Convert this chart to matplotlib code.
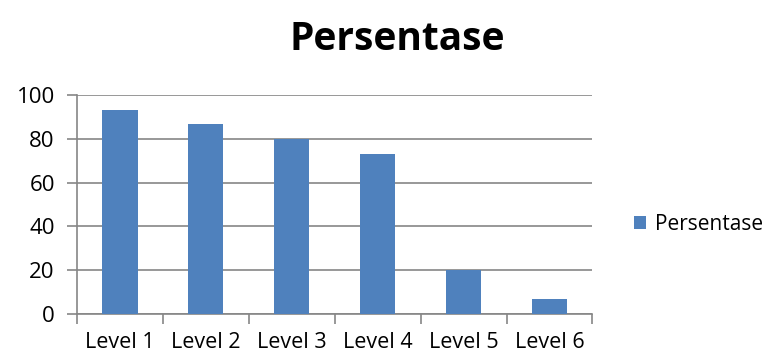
import numpy as np
import matplotlib.pyplot as plt
from matplotlib.patches import Patch

categories = ['Level 1', 'Level 2', 'Level 3', 'Level 4', 'Level 5', 'Level 6']
persentase = [93.3, 86.7, 80.0, 73.3, 20.0, 6.7]
y_ticks = [0, 20, 40, 60, 80, 100]

plt.rcParams['font.family'] = ['Open Sans', 'DejaVu Sans']

fig = plt.figure(figsize=(7.75, 3.56), dpi=100)
ax = fig.add_axes([0.0994, 0.118, 0.665, 0.615])

x = np.arange(len(categories))
ax.bar(x, persentase, width=0.41, color='#4F81BD', zorder=3)

ax.set_xlim(-0.5, len(categories) - 0.5)
ax.set_ylim(0, 100)
ax.set_yticks(y_ticks)
ax.yaxis.grid(True, color='#868686', linewidth=1.2, zorder=0)

# category labels sit between boundary ticks
ax.set_xticks(x)
ax.set_xticklabels(categories, fontsize=15.5)
ax.tick_params(axis='x', length=0, pad=13)
ax.set_xticks(np.arange(-0.5, len(categories)), minor=True)
ax.tick_params(axis='x', which='minor', length=7, color='#868686', width=1.2)
ax.tick_params(axis='y', length=7, color='#868686', width=1.2, labelsize=16, pad=9)

for side in ['top', 'right']:
    ax.spines[side].set_visible(False)
for side in ['left', 'bottom']:
    ax.spines[side].set_color('#868686')
    ax.spines[side].set_linewidth(1.2)

fig.text(0.513, 0.888, 'Persentase', ha='center', va='center',
         fontsize=28, fontweight='bold')

handles = [Patch(facecolor='#4F81BD', label='Persentase')]
fig.legend(handles=handles, loc='center left', bbox_to_anchor=(0.818, 0.37),
           frameon=False, fontsize=15, handlelength=0.6, handleheight=0.6,
           handletextpad=0.4, borderpad=0, borderaxespad=0)

fig.savefig('out.png', dpi=100)
